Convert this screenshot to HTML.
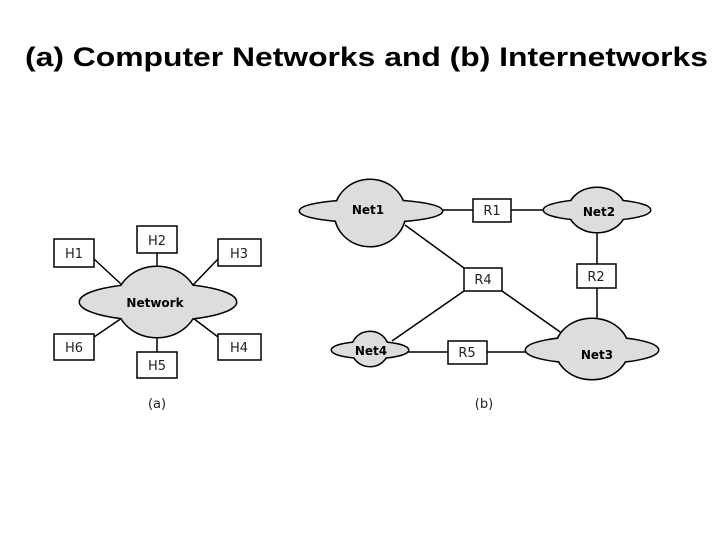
<!DOCTYPE html>
<html><head><meta charset="utf-8"><style>
html,body{margin:0;padding:0;background:#fff;width:720px;height:540px;overflow:hidden}
</style></head><body>
<svg width="720" height="540" viewBox="0 0 720 540" xmlns="http://www.w3.org/2000/svg">
<text x="25" y="66" textLength="683" lengthAdjust="spacingAndGlyphs" font-family="Liberation Sans, sans-serif" font-weight="bold" font-size="27" fill="#000">(a) Computer Networks and (b) Internetworks</text>
<g stroke="#000" stroke-width="1.5" fill="none">
<line x1="94" y1="259" x2="122" y2="285"/><line x1="157" y1="253" x2="157" y2="268"/>
<line x1="218" y1="259" x2="193" y2="285"/><line x1="94" y1="337" x2="122" y2="318"/>
<line x1="218" y1="337" x2="193" y2="318"/><line x1="157" y1="336" x2="157" y2="352"/>
<line x1="440" y1="210" x2="473" y2="210"/><line x1="511" y1="210" x2="546" y2="210"/>
<line x1="405" y1="225" x2="464" y2="268"/><line x1="464" y1="291" x2="392" y2="341"/>
<line x1="502" y1="291" x2="563" y2="334"/><line x1="597" y1="230" x2="597" y2="264"/>
<line x1="597" y1="288" x2="597" y2="322"/><line x1="406" y1="352" x2="448" y2="352"/>
<line x1="487" y1="352" x2="528" y2="352"/>
</g>
<g stroke="#000" stroke-width="3" fill="#000">
<ellipse cx="158" cy="302" rx="78" ry="18"/><ellipse cx="157" cy="302" rx="40" ry="35"/>
<ellipse cx="371" cy="211" rx="71" ry="11"/><ellipse cx="370" cy="213" rx="35" ry="33"/>
<ellipse cx="597" cy="210" rx="53" ry="10"/><ellipse cx="597" cy="210" rx="28" ry="22"/>
<ellipse cx="592" cy="350" rx="66" ry="13"/><ellipse cx="592" cy="349" rx="36" ry="30"/>
<ellipse cx="370" cy="350" rx="38" ry="8"/><ellipse cx="370" cy="349" rx="18" ry="17"/>
</g>
<g fill="#ddd">
<ellipse cx="158" cy="302" rx="78" ry="18"/><ellipse cx="157" cy="302" rx="40" ry="35"/>
<ellipse cx="371" cy="211" rx="71" ry="11"/><ellipse cx="370" cy="213" rx="35" ry="33"/>
<ellipse cx="597" cy="210" rx="53" ry="10"/><ellipse cx="597" cy="210" rx="28" ry="22"/>
<ellipse cx="592" cy="350" rx="66" ry="13"/><ellipse cx="592" cy="349" rx="36" ry="30"/>
<ellipse cx="370" cy="350" rx="38" ry="8"/><ellipse cx="370" cy="349" rx="18" ry="17"/>
</g>
<g stroke="#000" stroke-width="1.5" fill="#fff">
<rect x="54" y="239" width="40" height="28"/><rect x="137" y="226" width="40" height="27"/>
<rect x="218" y="239" width="43" height="27"/><rect x="54" y="334" width="40" height="26"/>
<rect x="137" y="352" width="40" height="26"/><rect x="218" y="334" width="43" height="26"/>
<rect x="473" y="199" width="38" height="23"/><rect x="577" y="264" width="39" height="24"/>
<rect x="464" y="268" width="38" height="23"/><rect x="448" y="341" width="39" height="23"/>
</g>
<g font-family="DejaVu Sans, sans-serif" font-size="13" fill="#222" text-anchor="middle">
<text x="74" y="258">H1</text><text x="157" y="245">H2</text><text x="239" y="258">H3</text>
<text x="74" y="352">H6</text><text x="157" y="370">H5</text><text x="239" y="352">H4</text>
<text x="492" y="215">R1</text><text x="596" y="281">R2</text><text x="483" y="284">R4</text><text x="467" y="357">R5</text>
<text x="157" y="408">(a)</text><text x="484" y="408">(b)</text>
</g>
<g font-family="DejaVu Sans, sans-serif" font-weight="bold" font-size="12" fill="#000" text-anchor="middle">
<text x="155" y="307">Network</text><text x="368" y="214">Net1</text><text x="599" y="216">Net2</text>
<text x="597" y="359">Net3</text><text x="371" y="355">Net4</text>
</g>
</svg>
</body></html>
